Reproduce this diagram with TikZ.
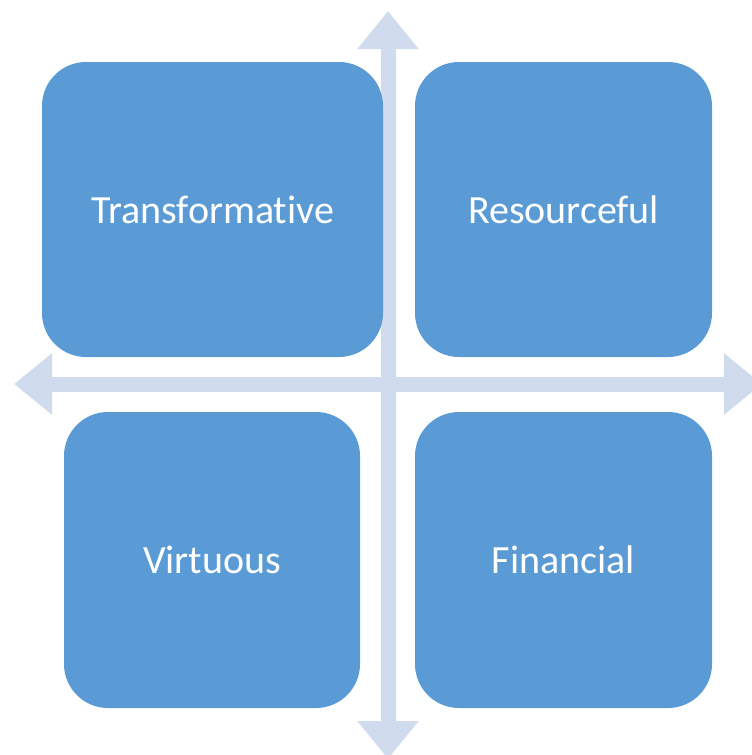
\documentclass[tikz,border=0pt]{standalone}
\usepackage{fontspec}
\setmainfont{Carlito}[Ligatures=NoCommon]
\usetikzlibrary{arrows.meta}

\definecolor{quadblue}{HTML}{5B9BD5}
\definecolor{axisblue}{HTML}{D0DCEE}

\begin{document}
\begin{tikzpicture}[x=1pt, y=-1pt,
			quad/.style={rectangle, rounded corners=44pt, fill=quadblue, inner sep=0pt,
				text=white, font=\fontsize{40}{48}\selectfont},
			axis/.style={draw=axisblue, line width=15pt,
				{Triangle[length=38pt,width=59pt]}-{Triangle[length=38pt,width=59pt]}}]
			\useasboundingbox (0,0) rectangle (752,755);
			% axes
			\coordinate (top) at (388,11);
			\coordinate (bottom) at (388,759);
			\coordinate (left) at (14,384);
			\coordinate (right) at (762,384);
			\draw[axis] (top) -- (bottom);
			\draw[axis] (left) -- (right);
			% quadrants
			\node[quad, minimum width=341pt, minimum height=295pt] (transf) at (212.5,209.5) {Transformative};
			\node[quad, minimum width=297pt, minimum height=295pt] (resource) at (563.5,209.5) {Resourceful};
			\node[quad, minimum width=296pt, minimum height=296pt] (virtue) at (212,560) {Virtuous};
			\node[quad, minimum width=297pt, minimum height=296pt] (finance) at (563.5,560) {Financial};
		\end{tikzpicture}
\end{document}
